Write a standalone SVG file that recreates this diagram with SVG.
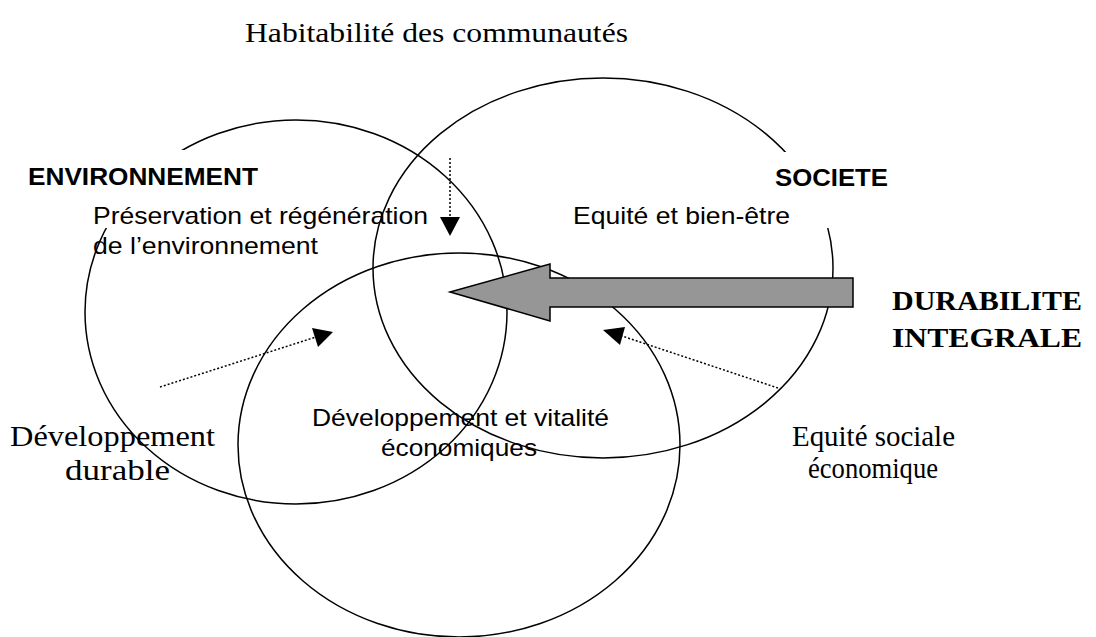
<svg xmlns="http://www.w3.org/2000/svg" width="1096" height="637" viewBox="0 0 1096 637">
<style>
.ell{fill:none;stroke:#000;stroke-width:1.5}
.mask{fill:#fff;stroke:none}
.sans{font-family:"Liberation Sans",Arial,sans-serif;font-size:24px;fill:#000}
.bold{font-weight:bold}
.serif{font-family:"Liberation Serif","Times New Roman",serif;fill:#000}
.dot{fill:none;stroke:#000;stroke-width:1.5;stroke-dasharray:2 2}
.head{fill:#000;stroke:none}
.big{fill:#969696;stroke:#000;stroke-width:1.5;stroke-linejoin:miter}
</style>
<rect width="1096" height="637" fill="#fff"/>
<g id="ellipses">
<ellipse id="env" class="ell" cx="296" cy="312" rx="211" ry="192"/>
<ellipse id="soc" class="ell" cx="603" cy="268" rx="230" ry="190"/>
<ellipse id="eco" class="ell" cx="459" cy="445" rx="221" ry="192"/>
</g>
<g id="label-env">
<rect class="mask" x="20" y="150" width="250" height="78"/>
<text class="sans bold" x="28" y="185" textLength="230" lengthAdjust="spacingAndGlyphs">ENVIRONNEMENT</text>
</g>
<g id="label-soc">
<rect class="mask" x="772" y="152" width="120" height="76"/>
<text class="sans bold" x="775" y="186" textLength="113" lengthAdjust="spacingAndGlyphs">SOCIETE</text>
</g>
<g id="text-env">
<text class="sans" x="93" y="224" textLength="335" lengthAdjust="spacingAndGlyphs">Préservation et régénération</text>
<text class="sans" x="93" y="254" textLength="225" lengthAdjust="spacingAndGlyphs">de l’environnement</text>
</g>
<g id="text-soc">
<text class="sans" x="573" y="224" textLength="217" lengthAdjust="spacingAndGlyphs">Equité et bien-être</text>
</g>
<g id="text-eco">
<text class="sans" x="312" y="426" textLength="297" lengthAdjust="spacingAndGlyphs">Développement et vitalité</text>
<text class="sans" x="381" y="456" textLength="156" lengthAdjust="spacingAndGlyphs">économiques</text>
</g>
<g id="title">
<text class="serif" x="245" y="42" font-size="28" textLength="383" lengthAdjust="spacingAndGlyphs">Habitabilité des communautés</text>
</g>
<g id="dev-durable">
<text class="serif" x="10" y="446" font-size="30" textLength="205" lengthAdjust="spacingAndGlyphs">Développement</text>
<text class="serif" x="65" y="480" font-size="30" textLength="105" lengthAdjust="spacingAndGlyphs">durable</text>
</g>
<g id="equite-sociale">
<text class="serif" x="792" y="446" font-size="30" textLength="163" lengthAdjust="spacingAndGlyphs">Equité sociale</text>
<text class="serif" x="808" y="478" font-size="30" textLength="130" lengthAdjust="spacingAndGlyphs">économique</text>
</g>
<g id="durabilite">
<text class="serif bold" x="892" y="310" font-size="28" textLength="190" lengthAdjust="spacingAndGlyphs">DURABILITE</text>
<text class="serif bold" x="892" y="347" font-size="28" textLength="190" lengthAdjust="spacingAndGlyphs">INTEGRALE</text>
</g>
<g id="connectors">
<line class="dot" x1="450" y1="158" x2="450" y2="217"/>
<polygon class="head" points="440,217 460,217 450,236"/>
<line class="dot" x1="160" y1="387" x2="316" y2="337"/>
<polygon class="head" points="312,328 333,332 318,347"/>
<line class="dot" x1="778" y1="388" x2="622" y2="336"/>
<polygon class="head" points="603,330 625,327 620,345"/>
<polygon class="big" points="450,292 550,264 550,278 853,278 853,307 550,307 550,321"/>
</g>
</svg>
